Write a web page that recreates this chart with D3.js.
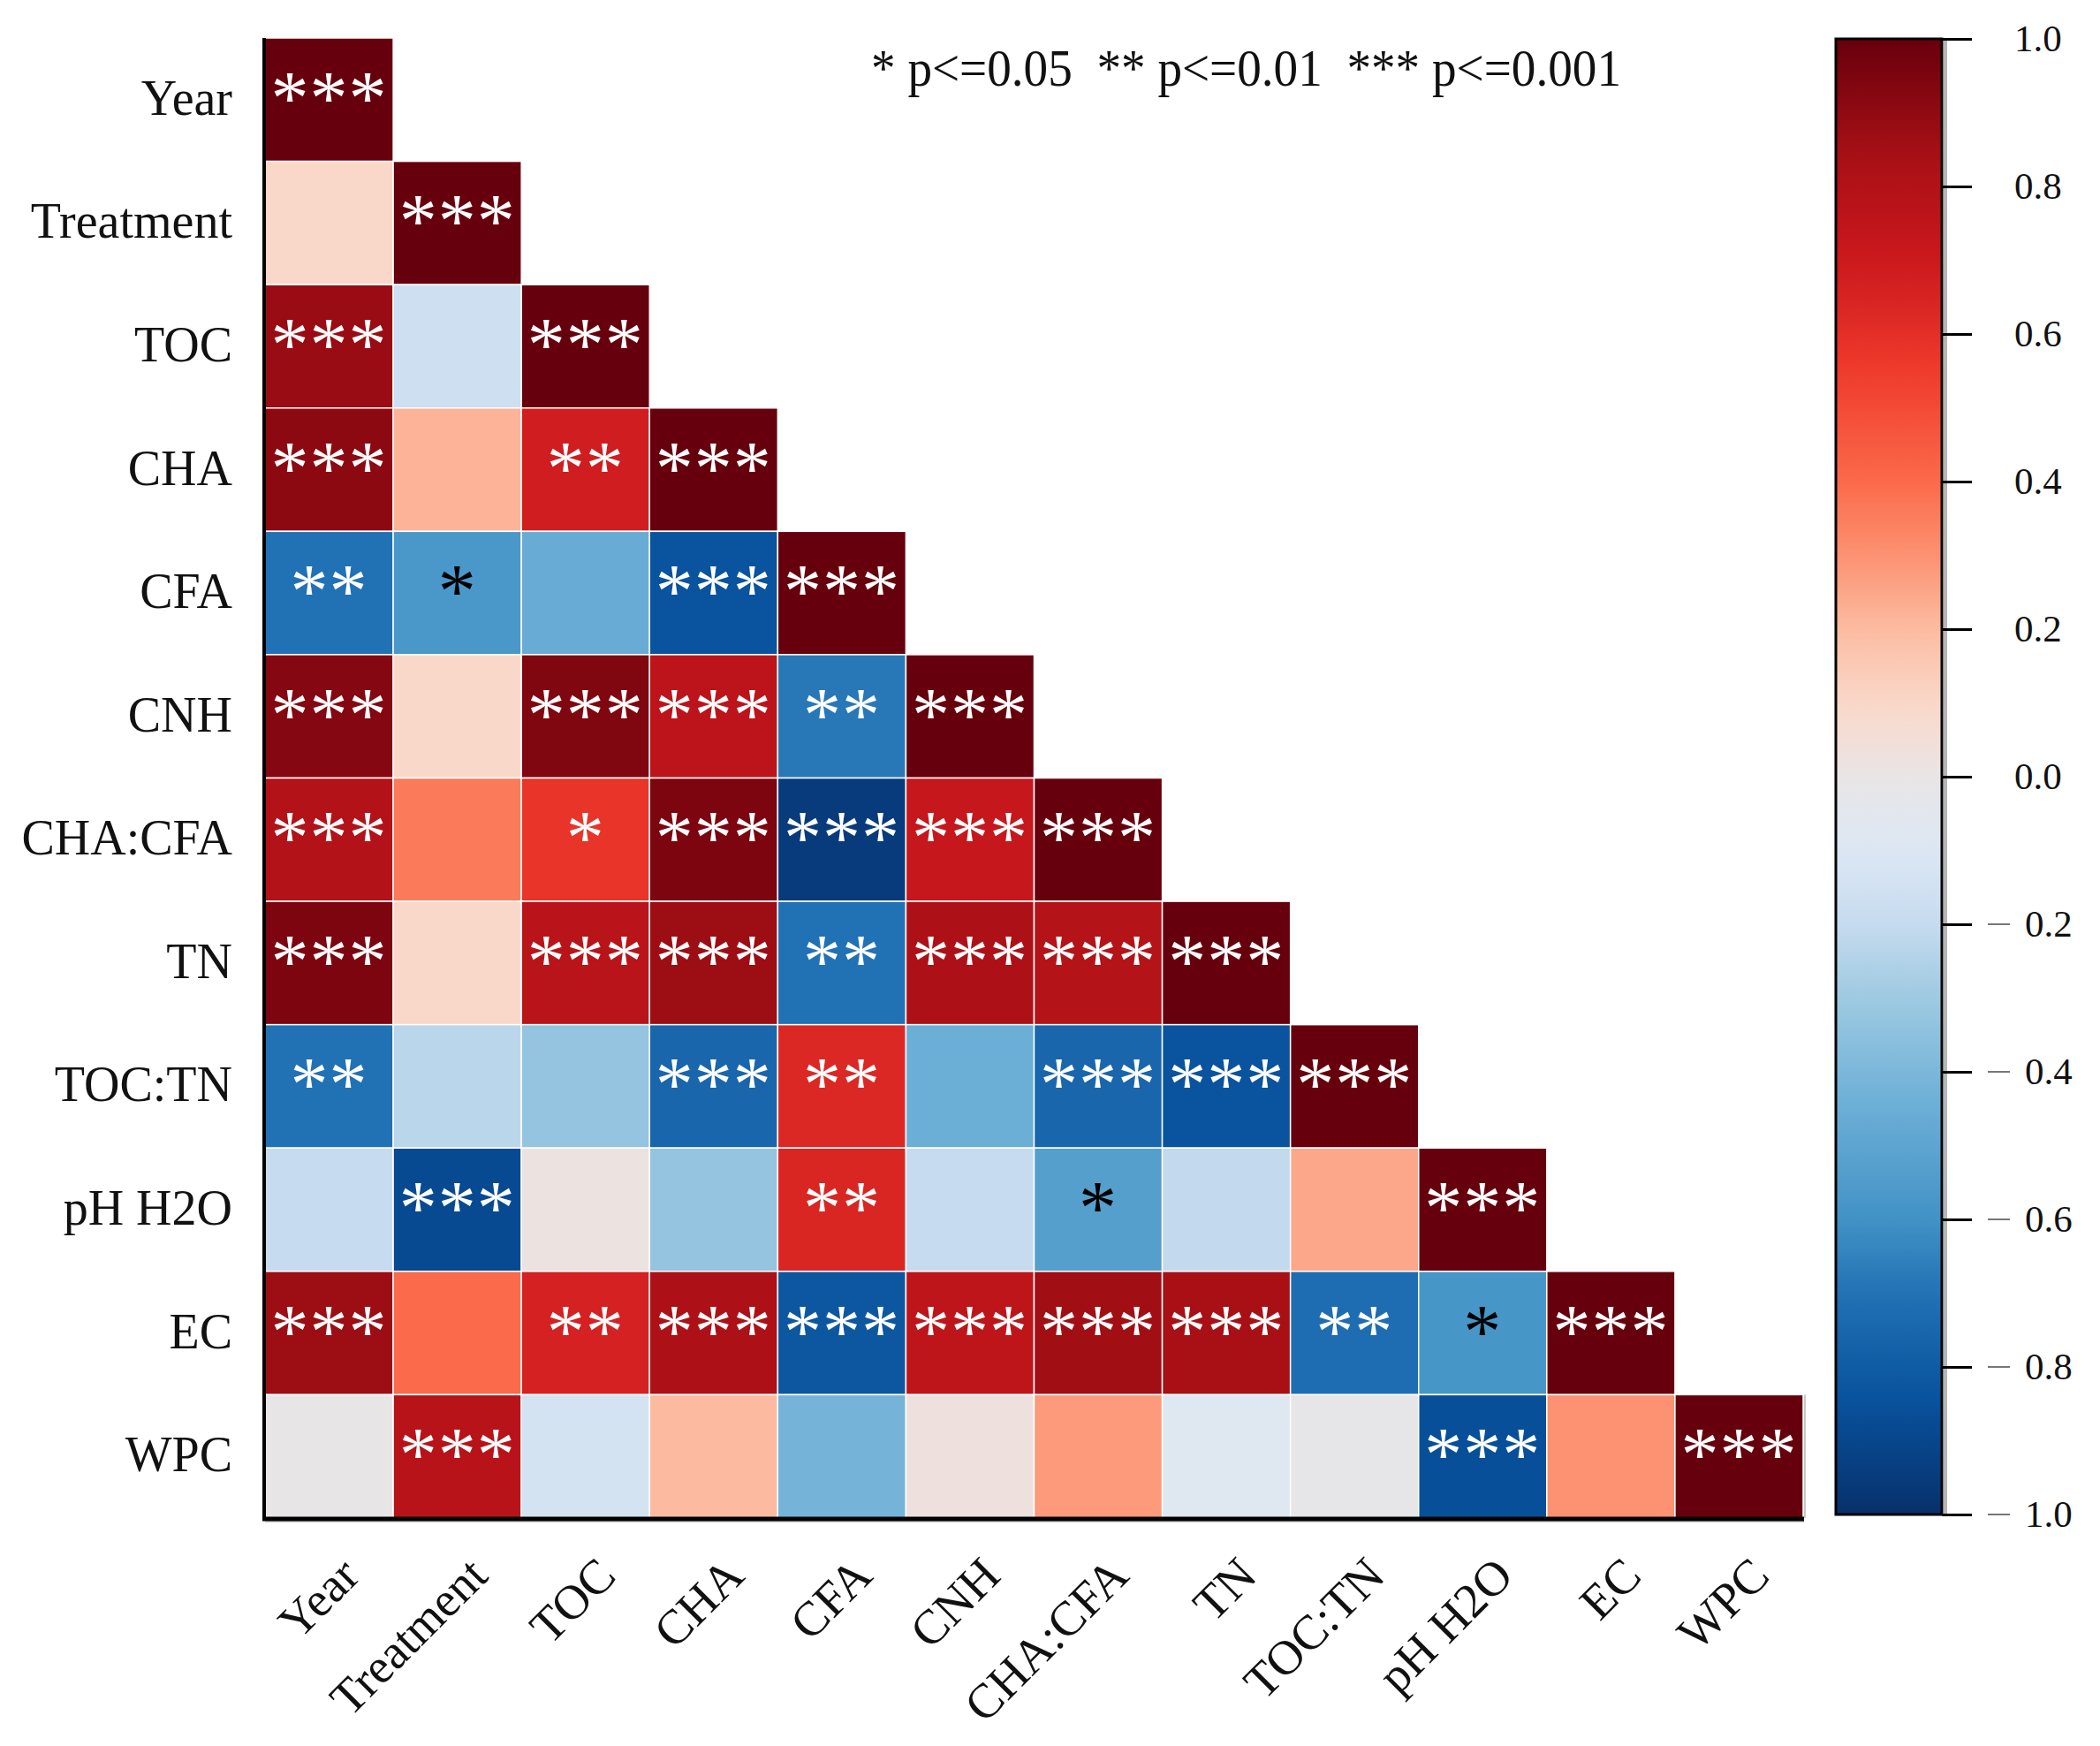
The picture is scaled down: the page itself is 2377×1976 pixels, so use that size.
<!DOCTYPE html>
<html lang="en">
<head>
<meta charset="UTF-8">
<title>Correlation heatmap</title>
<script src="https://cdn.jsdelivr.net/npm/d3@7"></script>
<style>
  body { margin: 0; background: #fff; }
  svg text { font-family: "Liberation Serif", "Times New Roman", serif; }
</style>
</head>
<body>
<svg id="chart" width="2377" height="1976"></svg>
<script>
const vars = ["Year", "Treatment", "TOC", "CHA", "CFA", "CNH", "CHA:CFA", "TN", "TOC:TN", "pH H2O", "EC", "WPC"];

// lower triangle, row i holds the correlations with vars[0..i]
const corr = [
  [1.00],
  [0.10, 1.00],
  [0.88, -0.17, 1.00],
  [0.91, 0.22, 0.68, 1.00],
  [-0.70, -0.57, -0.46, -0.84, 1.00],
  [0.93, 0.10, 0.94, 0.76, -0.68, 1.00],
  [0.80, 0.36, 0.58, 0.95, -0.95, 0.72, 1.00],
  [0.95, 0.10, 0.77, 0.87, -0.70, 0.82, 0.79, 1.00],
  [-0.70, -0.23, -0.33, -0.75, 0.63, -0.45, -0.75, -0.84, 1.00],
  [-0.20, -0.88, 0.02, -0.33, 0.64, -0.20, -0.53, -0.21, 0.25, 1.00],
  [0.87, 0.40, 0.66, 0.82, -0.82, 0.75, 0.86, 0.84, -0.72, -0.58, 1.00],
  [-0.01, 0.78, -0.14, 0.20, -0.42, 0.03, 0.28, -0.08, -0.02, -0.86, 0.30, 1.00]
];

const stars = [
  ["***"],
  ["", "***"],
  ["***", "", "***"],
  ["***", "", "**", "***"],
  ["**", "*", "", "***", "***"],
  ["***", "", "***", "***", "**", "***"],
  ["***", "", "*", "***", "***", "***", "***"],
  ["***", "", "***", "***", "**", "***", "***", "***"],
  ["**", "", "", "***", "**", "", "***", "***", "***"],
  ["", "***", "", "", "**", "", "*", "", "", "***"],
  ["***", "", "**", "***", "***", "***", "***", "***", "**", "*", "***"],
  ["", "***", "", "", "", "", "", "", "", "***", "", "***"]
];

const cbarTicks = [1.0, 0.8, 0.6, 0.4, 0.2, 0.0, -0.2, -0.4, -0.6, -0.8, -1.0];
const legendText = "* p<=0.05  ** p<=0.01  *** p<=0.001";

// colour map: Blues below zero, Reds above, grey centre
const colorStops = [-1, -0.85, -0.7, -0.6, -0.45, -0.3, -0.2, -0.1, 0, 0.1, 0.2, 0.3, 0.4, 0.55, 0.7, 0.85, 1];
const colorRange = ["#08306b", "#08519c", "#2171b5", "#4292c6", "#6baed6", "#9ecae1", "#c6dbef", "#dce8f4", "#e9e5e6",
  "#fad8c9", "#fcbba1", "#fc9272", "#fb6a4a", "#ef3b2c", "#cb181d", "#a50f15", "#67000d"];
const color = d3.scaleLinear().domain(colorStops).range(colorRange).interpolate(d3.interpolateRgb);

const svg = d3.select("#chart");

const gLeft = 300, gRight = 2041, gTop = 43, gBottom = 1718;
const x = d3.scaleBand().domain(vars).range([gLeft, gRight]);
const y = d3.scaleBand().domain(vars).range([gTop, gBottom]);

// cells
const cells = [];
corr.forEach((row, i) => row.forEach((v, j) => cells.push({ r: vars[i], c: vars[j], v: v, s: stars[i][j] })));

const cell = svg.append("g").selectAll("g")
  .data(cells)
  .enter()
  .append("g");

cell.append("rect")
  .attr("x", d => x(d.c))
  .attr("y", d => y(d.r))
  .attr("width", x.bandwidth())
  .attr("height", y.bandwidth())
  .attr("fill", d => color(d.v))
  .attr("stroke", "#fff")
  .attr("stroke-width", 1.5);

cell.filter(d => d.s)
  .append("text")
  .attr("x", d => x(d.c) + x.bandwidth() / 2)
  .attr("y", d => y(d.r) + y.bandwidth() / 2 + 27)
  .attr("text-anchor", "middle")
  .attr("font-size", 86)
  .attr("letter-spacing", 1)
  .attr("fill", d => d3.lab(color(d.v)).l > 56 ? "#000" : "#fff")
  .text(d => d.s);

// axis lines
svg.append("line").attr("x1", gLeft).attr("x2", gRight + 1).attr("y1", gBottom + 4).attr("y2", gBottom + 4)
  .attr("stroke", "#c8c8c8").attr("stroke-width", 2);
svg.append("line").attr("x1", gRight + 2).attr("x2", gRight + 2).attr("y1", y("WPC")).attr("y2", gBottom)
  .attr("stroke", "#c8c8c8").attr("stroke-width", 2);
svg.append("line").attr("x1", gLeft - 1).attr("x2", gLeft - 1).attr("y1", gTop).attr("y2", gBottom + 2)
  .attr("stroke", "#000").attr("stroke-width", 4);
svg.append("line").attr("x1", gLeft - 3).attr("x2", gRight + 1).attr("y1", gBottom + 1).attr("y2", gBottom + 1)
  .attr("stroke", "#000").attr("stroke-width", 5);

// row labels
svg.append("g").selectAll("text")
  .data(vars)
  .enter()
  .append("text")
  .attr("x", 263)
  .attr("y", d => y(d) + y.bandwidth() / 2 + 17)
  .attr("text-anchor", "end")
  .attr("font-size", 56)
  .attr("fill", "#111")
  .text(d => d);

// column labels, rotated
svg.append("g").selectAll("text")
  .data(vars)
  .enter()
  .append("text")
  .attr("transform", d => `translate(${x(d) + x.bandwidth() / 2 + 37},${gBottom + 68}) rotate(-45)`)
  .attr("text-anchor", "end")
  .attr("font-size", 55)
  .attr("fill", "#111")
  .text(d => d);

// significance legend
svg.append("text")
  .attr("x", 986)
  .attr("y", 97)
  .attr("font-size", 60)
  .attr("textLength", 849)
  .attr("lengthAdjust", "spacingAndGlyphs")
  .attr("fill", "#111")
  .style("white-space", "pre")
  .text(legendText);

// colour bar
const cbX = 2078, cbW = 120, cbTop = 44, cbBottom = 1714;
const cbScale = d3.scaleLinear().domain([-1, 1]).range([cbBottom, cbTop]);
const defs = svg.append("defs");
const grad = defs.append("linearGradient")
  .attr("id", "cbar")
  .attr("x1", 0).attr("x2", 0).attr("y1", 1).attr("y2", 0);
grad.selectAll("stop")
  .data(d3.range(0, 1.0001, 0.02))
  .enter()
  .append("stop")
  .attr("offset", t => `${t * 100}%`)
  .attr("stop-color", t => color(t * 2 - 1));

svg.append("line").attr("x1", cbX + cbW + 4).attr("x2", cbX + cbW + 4).attr("y1", cbTop).attr("y2", cbBottom)
  .attr("stroke", "#b5b5b5").attr("stroke-width", 4);
svg.append("rect")
  .attr("x", cbX).attr("y", cbTop)
  .attr("width", cbW).attr("height", cbBottom - cbTop)
  .attr("fill", "url(#cbar)")
  .attr("stroke", "#000")
  .attr("stroke-width", 3);

const cbAxis = svg.append("g")
  .attr("transform", `translate(${cbX + cbW},0)`)
  .call(d3.axisRight(cbScale).tickValues(cbarTicks).tickSize(34).tickFormat(""));
cbAxis.select(".domain").remove();
cbAxis.selectAll(".tick line").attr("stroke", "#000").attr("stroke-width", 3);

const cbLabels = svg.append("g").selectAll("g")
  .data(cbarTicks)
  .enter()
  .append("g")
  .attr("transform", d => `translate(${cbX + cbW},${cbScale(d)})`);
cbLabels.filter(d => d < 0)
  .append("line")
  .attr("x1", 52).attr("x2", 77).attr("y1", 0).attr("y2", 0)
  .attr("stroke", "#777").attr("stroke-width", 2);
cbLabels.append("text")
  .attr("x", d => d < 0 ? 94 : 82)
  .attr("y", 14)
  .attr("font-size", 43)
  .attr("fill", "#111")
  .text(d => Math.abs(d).toFixed(1));
</script>
</body>
</html>
